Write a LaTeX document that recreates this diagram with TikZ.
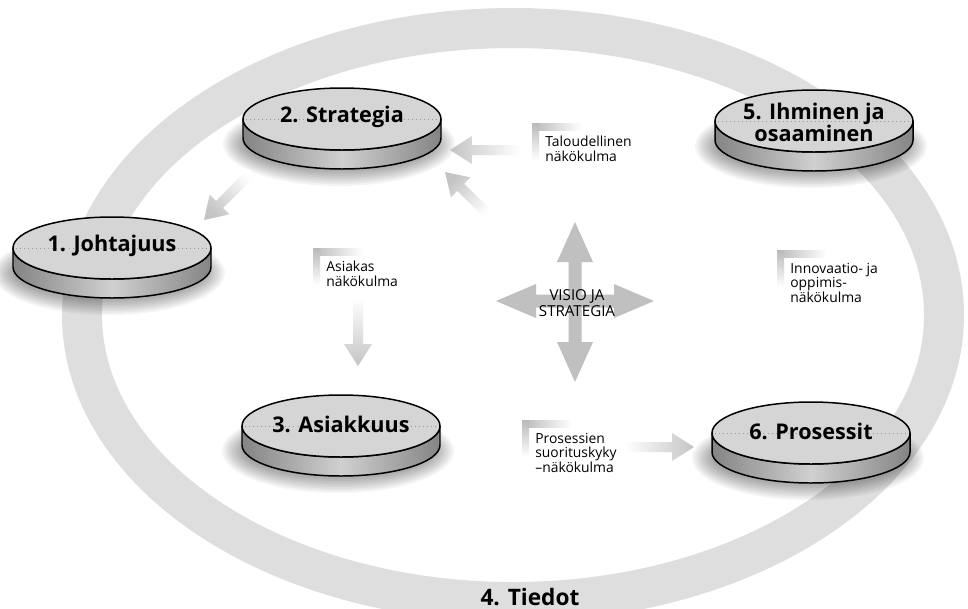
\documentclass[tikz,border=0pt]{standalone}
\usepackage{fontspec}
\setmainfont{Open Sans}
\usetikzlibrary{calc}

\definecolor{ringgray}{RGB}{222,222,222}
\definecolor{crossgray}{RGB}{192,192,192}
\definecolor{arrowgray}{RGB}{196,196,196}
\definecolor{cornergray}{RGB}{185,185,185}
\definecolor{topgray}{RGB}{213,213,213}
\definecolor{sidedark}{RGB}{132,132,132}
\definecolor{sidelight}{RGB}{208,208,208}

\tikzset{
  disklabel/.style={font=\bfseries\fontsize{12.3}{12.5}\selectfont, align=center, inner sep=0pt},
  viewtext/.style={font=\fontsize{7.9}{8.2}\selectfont, align=left, anchor=north west, inner sep=0pt},
  outline/.style={draw=black, line width=0.85pt},
}

% a shaded platform with a soft shadow; #1 name, #2/#3 centre of the top face, #4 label, #5 label shift
\newcommand{\platform}[5]{%
  \begin{scope}[shift={(#2,#3)}]
    \foreach \k in {0,...,8}
      \fill[black, opacity=0.045] (-3,25) ellipse ({116-2.5*\k} and {42-2*\k});
    \path[outline, left color=sidedark, right color=sidedark, middle color=sidelight]
      (-99,0) -- (-99,19) arc[start angle=180, end angle=0, x radius=99, y radius=31]
      -- (99,0) arc[start angle=0, end angle=180, x radius=99, y radius=31] -- cycle;
    \path[outline, fill=topgray] (0,0) ellipse (99 and 31);
    \draw[gray!80, dotted, line width=0.3pt] (-96,0) -- (96,0);
    \node[disklabel] (#1) at (0,#5) {#4};
  \end{scope}}

% a soft grey arrow fading out towards its tail; #1 tail, #2 tip, #3 shading angle
\newcommand{\fadearrow}[3]{%
  \coordinate (#1-neck) at ($(#2)!0.44cm!(#1)$);
  \shade[top color=arrowgray, bottom color=white, shading angle=#3]
    ($(#1)!0.1cm!90:(#2)$) -- ($(#1-neck)!0.1cm!90:(#2)$)
    -- ($(#1-neck)!0.28cm!90:(#2)$) -- (#2)
    -- ($(#1-neck)!0.28cm!-90:(#2)$) -- ($(#1-neck)!0.1cm!-90:(#2)$)
    -- ($(#1)!0.1cm!-90:(#2)$) -- cycle;}

% a perspective label with its fading corner bracket; #1 name, #2/#3 corner, #4 text
\newcommand{\viewlabel}[4]{%
  \shade[left color=cornergray, right color=white] (#2,#3) rectangle ++(50,7);
  \shade[top color=cornergray, bottom color=white] (#2,#3) rectangle ++(7,37);
  \node[viewtext] (#1) at (#2+13,#3+13) {#4};}

\begin{document}
\begin{tikzpicture}[x=0.02cm, y=-0.02cm]
  \useasboundingbox (0,0) rectangle (968,609);
  \fill[white] (0,0) rectangle (968,609);
  \clip (0,0) rectangle (968,609);

  % the surrounding information cycle
  \draw[ringgray, line width=0.8cm] (513,315) ellipse (431 and 287);
  \node[font=\bfseries\fontsize{12.9}{12}\selectfont, inner sep=0pt] (tiedot) at (530,597) {4. Tiedot};

  % platforms
  \platform{johtajuus}{112}{248}{1. Johtajuus}{-2}
  \platform{strategia}{342}{119}{2. Strategia}{-2}
  \platform{asiakkuus}{341}{426}{3. Asiakkuus}{-2}
  \platform{ihminen}{814}{121}{5. Ihminen ja\\osaaminen}{1}
  \platform{prosessit}{811}{433}{6. Prosessit}{-2}

  % flow arrows
  \coordinate (finT) at (520,150);  \coordinate (finH) at (450,150);
  \coordinate (visT) at (490,216);  \coordinate (visH) at (445,172);
  \coordinate (strT) at (252,172);  \coordinate (strH) at (204,220);
  \coordinate (custT) at (358,298); \coordinate (custH) at (358,366);
  \coordinate (procT) at (625,447); \coordinate (procH) at (694,447);
  \fadearrow{finT}{finH}{90}
  \fadearrow{visT}{visH}{45}
  \fadearrow{strT}{strH}{135}
  \fadearrow{custT}{custH}{180}
  \fadearrow{procT}{procH}{-90}

  % vision and strategy cross
  \coordinate (visio) at (575,302);
  \fill[crossgray] ($(visio)+(0,-80)$) -- ++(18,40) -- ++(-11.5,0) -- ++(0,80)
    -- ++(11.5,0) -- ($(visio)+(0,80)$) -- ++(-18,-40) -- ++(11.5,0) -- ++(0,-80)
    -- ++(-11.5,0) -- cycle;
  \fill[crossgray] ($(visio)+(-79,-1)$) -- ++(40,-17) -- ++(0,10.5) -- ++(78,0)
    -- ++(0,-10.5) -- ($(visio)+(79,-1)$) -- ++(-40,17) -- ++(0,-10.5) -- ++(-78,0)
    -- ++(0,10.5) -- cycle;
  \node[font=\fontsize{8.6}{9.2}\selectfont, align=center, inner sep=0pt] (visiotext)
    at (577,303) {VISIO JA\\STRATEGIA};

  % perspective labels
  \viewlabel{talous}{532}{123}{Taloudellinen\\näkökulma}
  \viewlabel{asiakas}{313}{248}{Asiakas\\näkökulma}
  \viewlabel{prosessi}{522}{420}{Prosessien\\suorituskyky\\–näkökulma}
  \viewlabel{innovaatio}{777}{250}{Innovaatio- ja\\oppimis-\\näkökulma}
\end{tikzpicture}
\end{document}
